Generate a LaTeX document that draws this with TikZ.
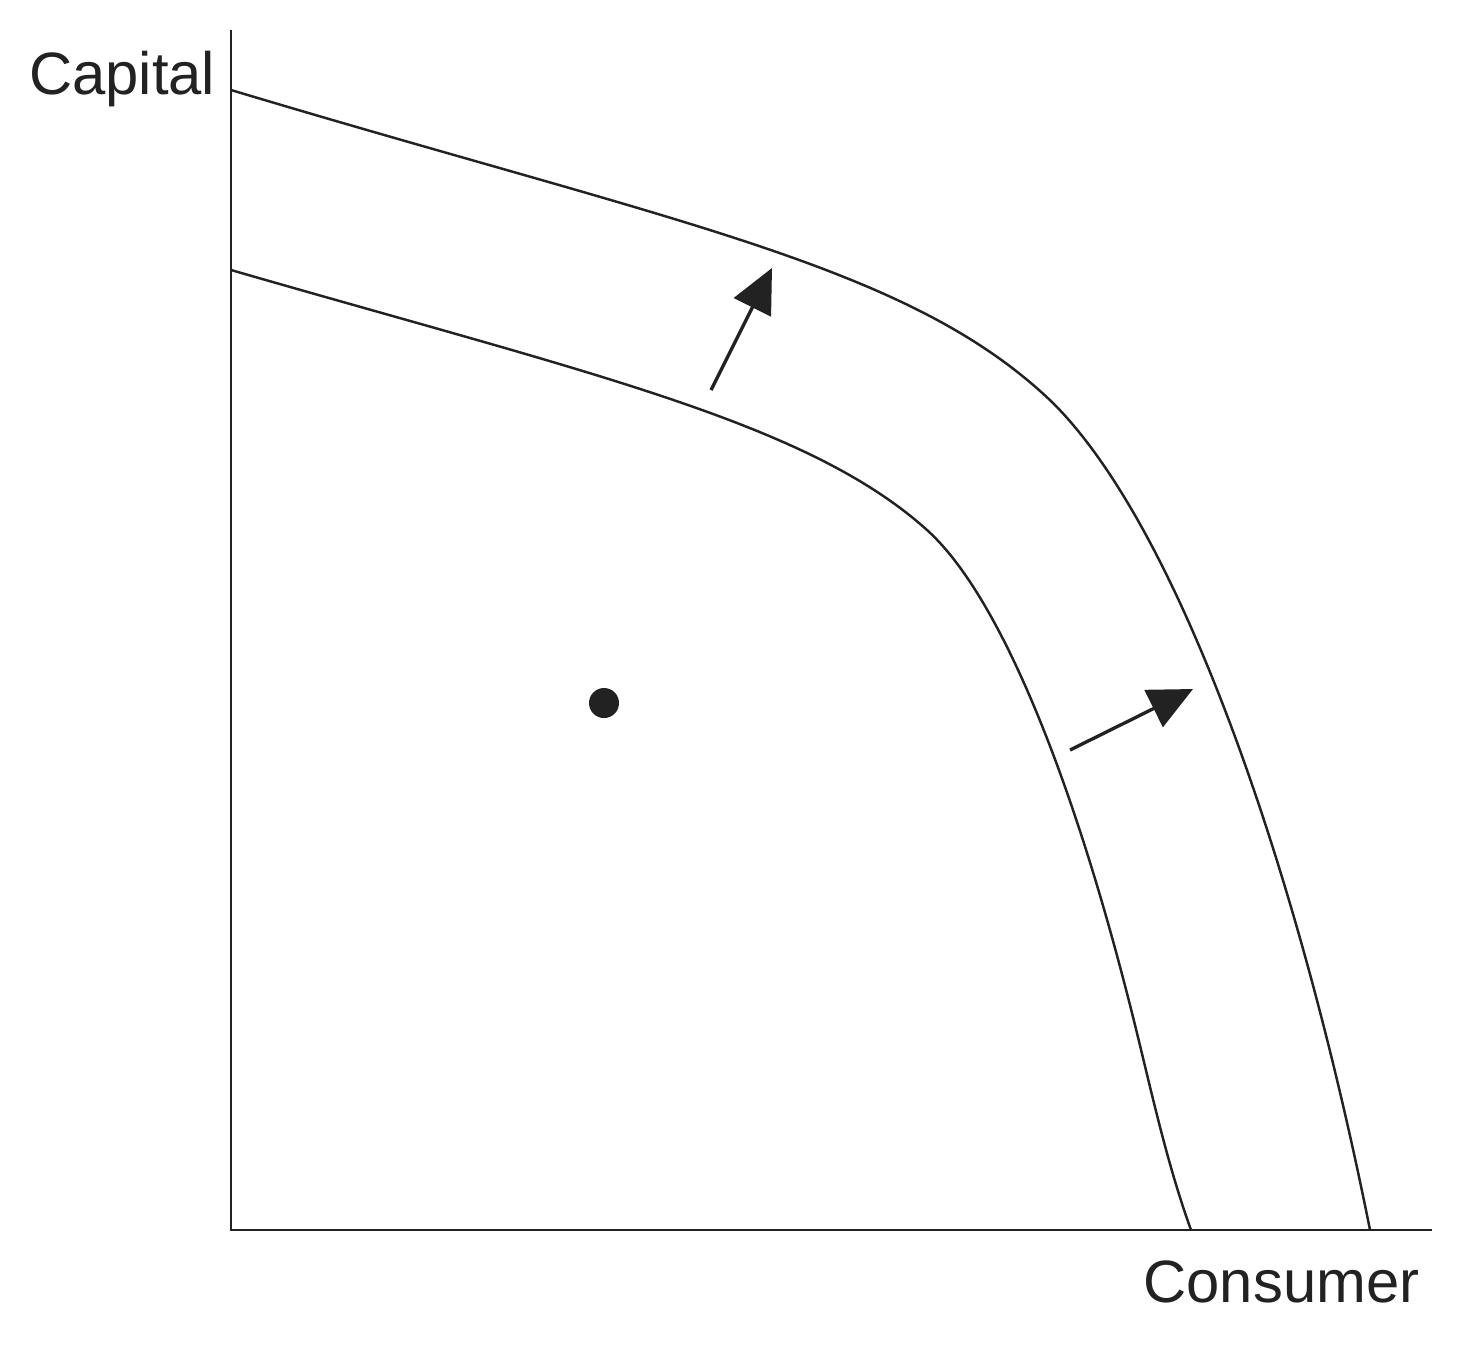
\documentclass[tikz,border=0pt]{standalone}
\usepackage{fontspec}
\setmainfont{Liberation Sans}
\usetikzlibrary{arrows.meta}
\definecolor{ink}{HTML}{222222}
\tikzset{
  axisline/.style={draw=ink, line width=0.75pt},
  ppfline/.style={draw=ink, line width=0.7pt},
  shiftarrow/.style={draw=ink, line width=0.95pt, -{Triangle[length=4.4mm, width=4.1mm, fill=ink]}},
  axislabel/.style={inner sep=0pt, text=ink, font=\fontsize{17pt}{20pt}\selectfont},
  dotmark/.style={circle, fill=ink, inner sep=0pt, minimum size=3mm}
}
\begin{document}
\begin{tikzpicture}[x=0.01cm, y=-0.01cm]
  \useasboundingbox (0,0) rectangle (1461,1347);
  % axes
  \coordinate (ytop) at (231,30);
  \coordinate (origin) at (231,1230);
  \coordinate (xend) at (1432,1230);
  \draw[axisline] (ytop) -- (origin) -- (xend);
  % labels
  \node[axislabel, anchor=base east] (ylab) at (216,94) {Capital};
  \node[axislabel, anchor=base east] (xlab) at (1420,1302) {Consumer};
  % outer PPF
  \coordinate (outA) at (231,90);
  \coordinate (outK) at (1053,403);
  \coordinate (outB) at (1370,1230);
  \draw[ppfline] (outA) .. controls (681,225) and (910,265) .. (outK)
                        .. controls (1183,533) and (1300,880) .. (outB);
  % inner PPF
  \coordinate (inA) at (231,270);
  \coordinate (inK) at (927,530);
  \coordinate (inM) at (1133,1017);
  \coordinate (inB) at (1191,1230);
  \draw[ppfline] (inA) .. controls (591,374) and (807,422) .. (inK)
                       .. controls (997,593) and (1070.5,767) .. (inM)
                       .. controls (1150.5,1087) and (1165.8,1160) .. (inB);
  % shift arrows
  \coordinate (a1s) at (711,390);
  \coordinate (a1e) at (772,268);
  \coordinate (a2s) at (1070,750);
  \coordinate (a2e) at (1193,689);
  \draw[shiftarrow] (a1s) -- (a1e);
  \draw[shiftarrow] (a2s) -- (a2e);
  % point inside
  \node[dotmark] (pt) at (604,703) {};
\end{tikzpicture}
\end{document}
